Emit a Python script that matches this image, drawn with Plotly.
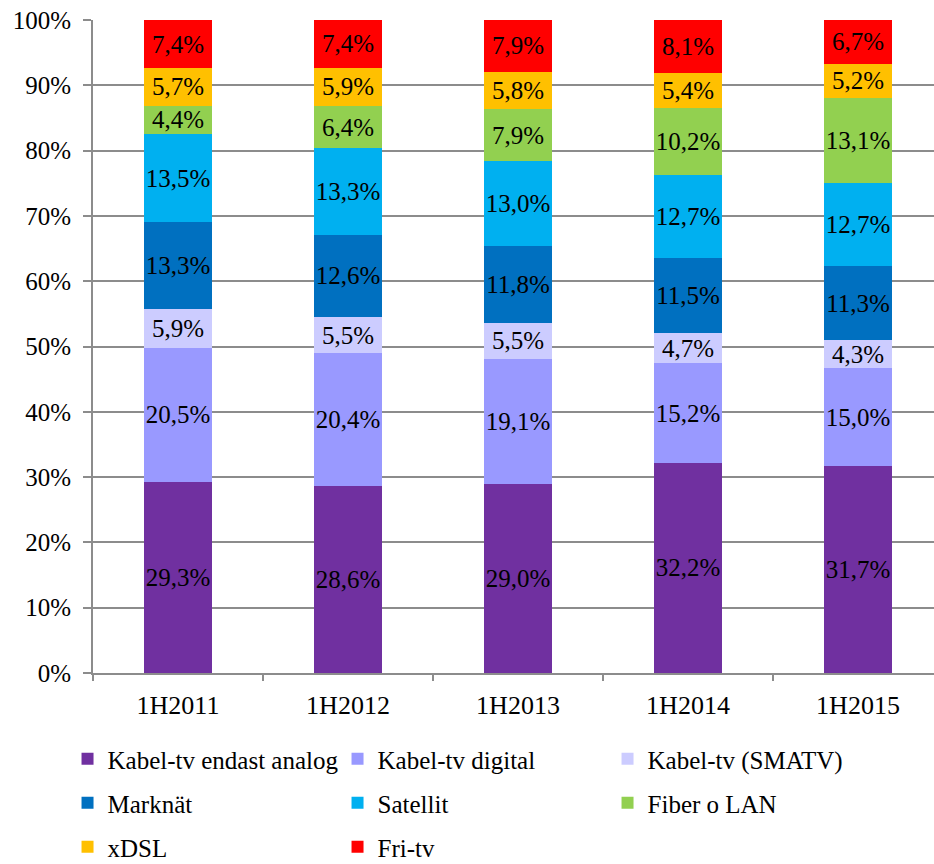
import plotly.graph_objects as go

periods = ["1H2011", "1H2012", "1H2013", "1H2014", "1H2015"]

analog = [29.3, 28.6, 29.0, 32.2, 31.7]
digital = [20.5, 20.4, 19.1, 15.2, 15.0]
smatv = [5.9, 5.5, 5.5, 4.7, 4.3]
marknat = [13.3, 12.6, 11.8, 11.5, 11.3]
satellit = [13.5, 13.3, 13.0, 12.7, 12.7]
fiber = [4.4, 6.4, 7.9, 10.2, 13.1]
xdsl = [5.7, 5.9, 5.8, 5.4, 5.2]
fritv = [7.4, 7.4, 7.9, 8.1, 6.7]

series = [
    ("Kabel-tv endast analog", analog, "#7030A0", "legend"),
    ("Kabel-tv digital", digital, "#9999FF", "legend"),
    ("Kabel-tv (SMATV)", smatv, "#CCCCFF", "legend"),
    ("Marknät", marknat, "#0070C0", "legend2"),
    ("Satellit", satellit, "#00B0F0", "legend2"),
    ("Fiber o LAN", fiber, "#92D050", "legend2"),
    ("xDSL", xdsl, "#FFC000", "legend3"),
    ("Fri-tv", fritv, "#FF0000", "legend3"),
]

FONT = "Liberation Serif, Times New Roman, serif"
fig = go.Figure()
for name, vals, color, lg in series:
    fig.add_trace(go.Bar(
        x=periods, y=vals, name=name, legend=lg,
        marker=dict(color=color, line=dict(width=0)),
        texttemplate="%{y:.1f}%", textposition="inside",
        insidetextanchor="middle", textangle=0,
        textfont=dict(family=FONT, size=25, color="black"),
    ))

# one horizontal legend per row, placed in container coordinates
legend_common = dict(
    orientation="h", xanchor="left", yanchor="middle",
    xref="container", yref="container",
    entrywidth=225, entrywidthmode="pixels",
    font=dict(family=FONT, size=25, color="black"),
    bgcolor="rgba(0,0,0,0)", traceorder="normal",
)
LEG_X = 0.0723
fig.update_layout(
    barmode="stack",
    bargap=0.605,
    width=934, height=864,
    margin=dict(l=93, r=0, t=20, b=191),
    paper_bgcolor="white", plot_bgcolor="white",
    separators=",.",
    uniformtext=dict(minsize=25, mode="show"),
    font=dict(family=FONT, size=25, color="black"),
    legend=dict(legend_common, x=LEG_X, y=1 - 759 / 864),
    legend2=dict(legend_common, x=LEG_X, y=1 - 803 / 864),
    legend3=dict(legend_common, x=LEG_X, y=1 - 847 / 864),
    xaxis=dict(
        range=[-0.5, 4.447], showline=True, linecolor="#8c8c8c", linewidth=2,
        ticks="outside", tickson="boundaries", ticklen=6, tickcolor="#8c8c8c",
        tickwidth=2, tickfont=dict(family=FONT, size=26, color="black"),
        ticklabelstandoff=8,
        showgrid=False, fixedrange=True,
    ),
    yaxis=dict(
        range=[0, 100], tickvals=list(range(0, 101, 10)),
        ticktext=[f"{v}%" for v in range(0, 101, 10)],
        showline=True, linecolor="#8c8c8c", linewidth=2,
        ticks="outside", ticklen=8, tickcolor="#8c8c8c", tickwidth=2,
        showgrid=True, gridcolor="#8c8c8c", gridwidth=2,
        zeroline=False, ticklabelstandoff=7,
        tickfont=dict(family=FONT, size=25, color="black"),
    ),
)

fig.write_html("out.html")
